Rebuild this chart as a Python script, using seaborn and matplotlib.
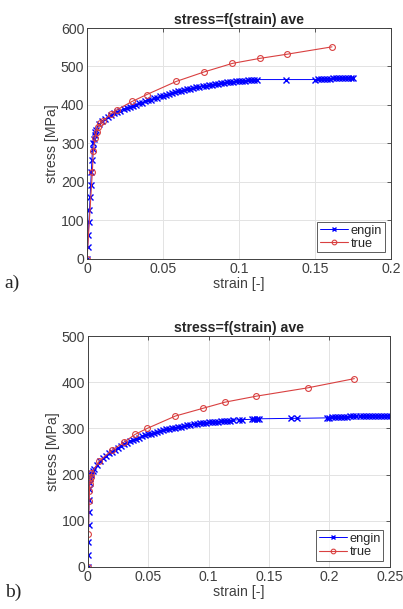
import matplotlib
matplotlib.use("Agg")
import matplotlib.pyplot as plt
import seaborn as sns
import pandas as pd

# ---- panel a) data (read off the picture) ----
a_engin_strain = [0, 0.0004, 0.0008, 0.0012, 0.0016, 0.002, 0.0024, 0.0028, 0.0032, 0.0036,
                  0.004, 0.0045, 0.005, 0.0055, 0.006, 0.008, 0.010, 0.012, 0.014, 0.016,
                  0.018, 0.020, 0.022, 0.024, 0.026, 0.028, 0.030, 0.032, 0.034, 0.036,
                  0.038, 0.040, 0.042, 0.044, 0.046, 0.048, 0.050, 0.052, 0.054, 0.056,
                  0.058, 0.060, 0.062, 0.064, 0.066, 0.068, 0.070, 0.072, 0.074, 0.076,
                  0.078, 0.080, 0.082, 0.084, 0.086, 0.088, 0.090, 0.092, 0.094, 0.096,
                  0.098, 0.100, 0.102, 0.104, 0.106, 0.108, 0.110, 0.112, 0.131, 0.150,
                  0.152, 0.154, 0.156, 0.158, 0.160, 0.162, 0.164, 0.166, 0.168, 0.170,
                  0.172, 0.174, 0.175]
a_engin_stress = [0, 30, 62, 95, 128, 160, 192, 225, 258, 285,
                  300, 312, 323, 330, 336, 350, 358, 364, 369, 374,
                  378, 382, 385, 389, 392, 395, 398, 401, 404, 406,
                  409, 412, 414, 417, 419, 422, 424, 426, 428, 431,
                  433, 435, 437, 439, 441, 442, 444, 446, 447, 448,
                  450, 451, 452, 454, 455, 456, 457, 459, 460, 460,
                  461, 462, 463, 463, 464, 465, 465, 466, 466, 466,
                  467, 467, 468, 468, 468, 469, 469, 469, 470, 470,
                  470, 471, 471]
a_true_strain = [0, 0.0035, 0.0041, 0.0053, 0.0063, 0.0072, 0.0086, 0.0107, 0.0158,
                 0.0195, 0.0296, 0.0393, 0.0586, 0.0772, 0.0956, 0.1136, 0.1318, 0.1612]
a_true_stress = [0, 227, 279, 314, 330, 342, 352, 359, 377,
                 387, 409, 427, 461, 486, 508, 521, 532, 551]

# ---- panel b) data ----
b_engin_strain = [0, 0.0002, 0.0004, 0.0006, 0.0008, 0.001, 0.0012, 0.0015, 0.002, 0.0025,
                  0.003, 0.004, 0.005, 0.0075, 0.010, 0.0125, 0.015, 0.0175, 0.020, 0.0225,
                  0.025, 0.0275, 0.030, 0.0325, 0.035, 0.0375, 0.040, 0.0425, 0.045, 0.0475,
                  0.050, 0.0525, 0.055, 0.0575, 0.060, 0.0625, 0.065, 0.0675, 0.070, 0.0725,
                  0.075, 0.0775, 0.080, 0.0825, 0.085, 0.0875, 0.090, 0.0925, 0.095, 0.0975,
                  0.100, 0.1025, 0.105, 0.1075, 0.110, 0.1125, 0.115, 0.1175, 0.120, 0.125,
                  0.1275, 0.136, 0.138, 0.140, 0.142, 0.168, 0.173, 0.198, 0.200, 0.2025,
                  0.205, 0.2075, 0.210, 0.2125, 0.215, 0.2175, 0.220, 0.2225, 0.225, 0.2275,
                  0.230, 0.2325, 0.235, 0.2375, 0.240, 0.2425, 0.245, 0.2475, 0.250]
b_engin_stress = [0, 25, 55, 90, 120, 145, 168, 182, 193, 199,
                  203, 208, 212, 220, 229, 235, 241, 246, 250, 254,
                  258, 262, 266, 269, 272, 275, 278, 280, 283, 285,
                  287, 289, 291, 293, 295, 296, 298, 299, 300, 302,
                  303, 304, 306, 307, 308, 309, 310, 311, 312, 312,
                  313, 314, 314, 315, 316, 316, 317, 317, 318, 319,
                  319, 320, 320, 321, 321, 322, 322, 323, 323, 324,
                  324, 324, 325, 325, 325, 326, 326, 326, 327, 327,
                  327, 327, 328, 328, 328, 328, 328, 328, 328]
b_true_strain = [0, 0.0005, 0.001, 0.0013, 0.0016, 0.002, 0.0025, 0.003, 0.0093, 0.020,
                 0.0298, 0.039, 0.049, 0.0725, 0.0957, 0.1135, 0.1395, 0.182, 0.2207]
b_true_stress = [0, 72, 143, 165, 180, 188, 196, 203, 229, 253,
                 270, 287, 300, 327, 344, 357, 370, 388, 408]

TITLE = "stress=f(strain) ave"
XLABEL = "strain [-]"
YLABEL = "stress [MPa]"

sns.set_style("whitegrid")
plt.rcParams['font.family'] = ['Liberation Sans', 'DejaVu Sans']

fig = plt.figure(figsize=(4.03, 6.09), dpi=100)
ax_a = fig.add_axes([0.216, 0.575, 0.754, 0.379])
ax_b = fig.add_axes([0.218, 0.069, 0.749, 0.379])

blue = (0.0, 0.0, 1.0)
red = (0.85, 0.25, 0.25)
axcol = '#404040'


def draw(ax, es, ey, ts, ty, xlim, ylim, xticks, xticklabels, yticks):
    sns.lineplot(x=es, y=ey, ax=ax, color=blue, marker='x', markersize=4.4,
                 markeredgecolor=blue, markeredgewidth=1.0, linewidth=0.7,
                 sort=False, estimator=None, label='engin')
    sns.lineplot(x=ts, y=ty, ax=ax, color=red, marker='o', markersize=4.2,
                 markerfacecolor='none', markeredgecolor=red, markeredgewidth=0.8,
                 linewidth=0.8, sort=False, estimator=None, label='true')
    ax.set_xlim(*xlim)
    ax.set_ylim(*ylim)
    ax.set_xticks(xticks)
    ax.set_xticklabels(xticklabels)
    ax.set_yticks(yticks)
    ax.set_title(TITLE, fontsize=10.2, fontweight='bold', pad=3)
    ax.set_xlabel(XLABEL, fontsize=10.2, color=axcol, labelpad=1)
    ax.set_ylabel(YLABEL, fontsize=10.2, color=axcol, labelpad=1)
    ax.tick_params(axis='both', labelsize=10.2, colors=axcol, direction='in',
                   length=3, width=0.6, pad=2, top=True, right=True)
    ax.grid(True, color='#e3e3e3', linewidth=0.7)
    for s in ax.spines.values():
        s.set_visible(True)
        s.set_color(axcol)
        s.set_linewidth(0.7)
    leg = ax.legend(loc='lower right', fontsize=9.2, frameon=True, fancybox=False,
                    handlelength=2.2, handletextpad=0.2, borderpad=0.2,
                    labelspacing=0.1, borderaxespad=0.5, markerscale=0.8)
    leg.get_frame().set_edgecolor('#333333')
    leg.get_frame().set_linewidth(0.7)


draw(ax_a, a_engin_strain, a_engin_stress, a_true_strain, a_true_stress,
     (0, 0.2), (0, 600), [0, 0.05, 0.1, 0.15, 0.2],
     ['0', '0.05', '0.1', '0.15', '0.2'], [0, 100, 200, 300, 400, 500, 600])
draw(ax_b, b_engin_strain, b_engin_stress, b_true_strain, b_true_stress,
     (0, 0.25), (0, 500), [0, 0.05, 0.1, 0.15, 0.2, 0.25],
     ['0', '0.05', '0.1', '0.15', '0.2', '0.25'], [0, 100, 200, 300, 400, 500])

fig.text(0.012, 0.535, "a)", fontsize=14, family='Liberation Serif', va='center')
fig.text(0.012, 0.028, "b)", fontsize=14, family='Liberation Serif', va='center')

fig.savefig("out.png", dpi=100)
